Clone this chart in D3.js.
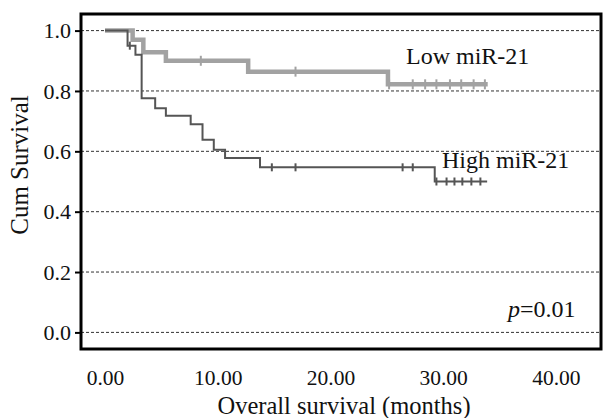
<!DOCTYPE html>
<html>
<head>
<meta charset="utf-8">
<script src="https://cdn.jsdelivr.net/npm/d3@7"></script>
<style>
  body { margin: 0; background: #fff; }
  text { font-family: "Liberation Serif", "DejaVu Serif", serif; fill: #111; }
</style>
</head>
<body>
<div id="chart"></div>
<script>
// Kaplan-Meier steps (months, cumulative survival)
var lowTimes = [0, 2.45, 3.4, 5.4, 12.7, 25.1, 33.95];
var lowSurv = [1.0, 0.97, 0.928, 0.90, 0.864, 0.822, 0.822];
var lowCensor = [8.5, 16.9, 25.2, 27.3, 28.4, 29.4, 30.6, 31.6, 32.7, 33.7];

var highTimes = [0, 2.0, 2.7, 3.25, 4.45, 5.4, 7.6, 8.65, 9.65, 10.65, 13.75, 29.25, 33.9];
var highSurv = [1.0, 0.95, 0.92, 0.776, 0.743, 0.718, 0.69, 0.638, 0.605, 0.578, 0.547, 0.50, 0.50];
var highCensor = [2.2, 14.8, 16.9, 26.4, 27.3, 29.4, 30.3, 31.0, 31.7, 32.5, 33.3];

var xTicks = [0, 10, 20, 30, 40];
var yTicks = [0, 0.2, 0.4, 0.6, 0.8, 1.0];

var svgWidth = 607;
var svgHeight = 418;

var svg = d3.select("#chart")
    .append("svg")
    .attr("width", svgWidth)
    .attr("height", svgHeight);

var x = d3.scaleLinear().domain([-2.13, 44]).range([81, 601]);
var y = d3.scaleLinear().domain([-0.055, 1.055]).range([349, 14]);

// dashed gridlines
svg.append("g")
    .selectAll("line")
    .data(yTicks)
    .enter()
    .append("line")
    .attr("x1", x.range()[0])
    .attr("x2", x.range()[1])
    .attr("y1", d => y(d))
    .attr("y2", d => y(d))
    .attr("stroke", "#333")
    .attr("stroke-width", 1)
    .attr("stroke-dasharray", "3,2");

// build step data
function steps(times, surv) {
    return times.map((t, i) => ({ t: t, s: surv[i] }));
}
function survAt(times, surv, t) {
    var s = surv[0];
    times.forEach((tt, i) => { if (tt <= t) s = surv[i]; });
    return s;
}

var line = d3.line()
    .x(d => x(d.t))
    .y(d => y(d.s))
    .curve(d3.curveStepAfter);

function drawCurve(times, surv, censor, color, width, tick) {
    var g = svg.append("g");
    g.append("path")
        .datum(steps(times, surv))
        .attr("d", line)
        .attr("fill", "none")
        .attr("stroke", color)
        .attr("stroke-width", width);
    g.selectAll(".cens")
        .data(censor)
        .enter()
        .append("line")
        .attr("x1", d => x(d))
        .attr("x2", d => x(d))
        .attr("y1", d => y(survAt(times, surv, d)) - tick)
        .attr("y2", d => y(survAt(times, surv, d)) + tick)
        .attr("stroke", color)
        .attr("stroke-width", 2);
}

drawCurve(lowTimes, lowSurv, lowCensor, "#a2a2a2", 4.5, 5);
drawCurve(highTimes, highSurv, highCensor, "#555", 2, 4);

// frame
svg.append("rect")
    .attr("x", 81)
    .attr("y", 14)
    .attr("width", 520)
    .attr("height", 335)
    .attr("fill", "none")
    .attr("stroke", "#000")
    .attr("stroke-width", 3);

// axes
var leftAxis = d3.axisLeft(y)
    .tickValues(yTicks)
    .tickFormat(d3.format(".1f"))
    .tickSize(6)
    .tickPadding(4);
var bottomAxis = d3.axisBottom(x)
    .tickValues(xTicks)
    .tickFormat(d3.format(".2f"))
    .tickSize(0)
    .tickPadding(21);

var yAxisG = svg.append("g")
    .attr("transform", "translate(81,0)")
    .call(leftAxis);
yAxisG.select(".domain").remove();
yAxisG.selectAll("line").attr("stroke", "#000").attr("stroke-width", 2);
yAxisG.selectAll("text").attr("font-size", 22).attr("font-family", "Liberation Serif").attr("fill", "#111");

var xAxisG = svg.append("g")
    .attr("transform", "translate(0,349)")
    .call(bottomAxis);
xAxisG.select(".domain").remove();
xAxisG.selectAll("text").attr("font-size", 21.5).attr("font-family", "Liberation Serif").attr("fill", "#111");

// axis titles
svg.append("text")
    .attr("x", 344)
    .attr("y", 414)
    .attr("text-anchor", "middle")
    .attr("font-size", 24.5)
    .text("Overall survival (months)");

svg.append("text")
    .attr("transform", "translate(28,165) rotate(-90)")
    .attr("text-anchor", "middle")
    .attr("font-size", 25)
    .text("Cum Survival");

// series labels
svg.append("text")
    .attr("x", 406)
    .attr("y", 64)
    .attr("font-size", 24)
    .text("Low miR-21");

svg.append("text")
    .attr("x", 442)
    .attr("y", 168)
    .attr("font-size", 24)
    .text("High miR-21");

var pText = svg.append("text")
    .attr("x", 508)
    .attr("y", 317)
    .attr("font-size", 24);
pText.append("tspan").attr("font-style", "italic").text("p");
pText.append("tspan").text("=0.01");
</script>
</body>
</html>
